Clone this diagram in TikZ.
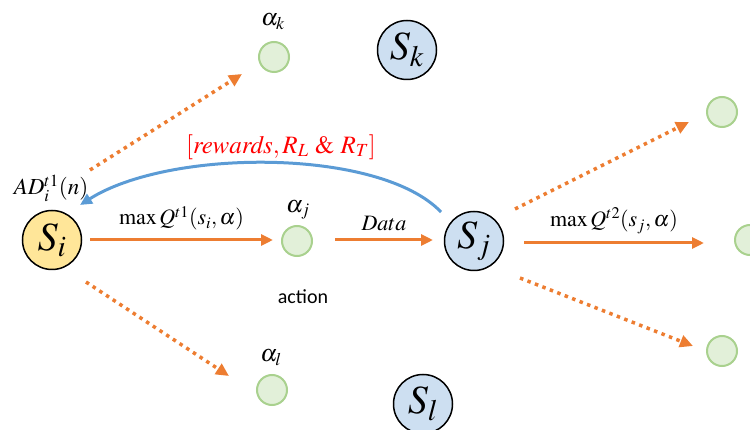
\documentclass[tikz,border=0pt]{standalone}
\usepackage{mathptmx}
\usepackage{fontspec}
\setmainfont{Liberation Serif}
\newfontfamily\calib{Carlito}
\usetikzlibrary{arrows.meta}
\definecolor{orng}{HTML}{ED7D31}
\definecolor{blu}{HTML}{5B9BD5}
\definecolor{gfill}{HTML}{E2F0D9}
\definecolor{gdraw}{HTML}{A9D18E}
\definecolor{yfill}{HTML}{FFE699}
\definecolor{bfill}{HTML}{CDDFF1}
\tikzset{
  state/.style={circle,draw=black,line width=1.5pt,minimum size=59pt,inner sep=0pt,font=\fontsize{40}{44}\selectfont},
  act/.style={circle,draw=gdraw,fill=gfill,line width=2pt,minimum size=30pt,inner sep=0pt},
  lbl/.style={inner sep=0pt,font=\fontsize{22}{26}\selectfont},
  albl/.style={inner sep=0pt,font=\fontsize{24}{28}\selectfont},
  solidarrow/.style={draw=orng,line width=3pt,-{Triangle[length=12pt,width=11pt]},fill=orng},
  dotarrow/.style={draw=orng,line width=3.5pt,dash pattern=on 3.5pt off 4.5pt,-{Triangle[length=13pt,width=12pt]}},
  bluearrow/.style={draw=blu,line width=3pt,-{Triangle[length=12pt,width=11pt]}}
}
\begin{document}
\begin{tikzpicture}[x=1pt,y=-1pt]
\useasboundingbox (0,0) rectangle (750,430);
% states
\node[state,fill=yfill] (Si) at (52,240) {$S_i$};
\node[state,fill=bfill] (Sj) at (474,241) {$S_j$};
\node[state,fill=bfill] (Sk) at (407,50) {$S_k$};
\node[state,fill=bfill] (Sl) at (423,404) {$S_l$};
% actions
\node[act] (ak) at (274,57) {};
\node[act] (aj) at (297,241) {};
\node[act] (al) at (272,390) {};
\node[act] (r1) at (722,112) {};
\node[act] (r2) at (750,240) {};
\node[act] (r3) at (722,351) {};
% labels
\node[albl] (lak) at (273,22) {$\alpha_k$};
\node[albl] (laj) at (298,210) {$\alpha_j$};
\node[albl] (lal) at (271,358) {$\alpha_l$};
\node[lbl,font=\fontsize{23}{26}\selectfont] (ad) at (51,188) {$AD_i^{t1}(n)$};
\node[lbl,text=red,font=\fontsize{25}{28}\selectfont] (rw) at (281,147) {$[\mathit{rewards}, R_L\ \&\ R_T]$};
\node[inner sep=0pt,font=\calib\fontsize{20}{24}\selectfont] (actn) at (303,297) {action};
% connector endpoints
\coordinate (m1s) at (90,240);
\coordinate (m1e) at (273,240);
\coordinate (d1s) at (335,240);
\coordinate (d1e) at (433,240);
\coordinate (m2s) at (524,243);
\coordinate (m2e) at (704,243);
\coordinate (bs) at (441,212);
\coordinate (be) at (80,205);
\coordinate (o1s) at (90,170);
\coordinate (o1e) at (242,74);
\coordinate (o2s) at (86,282);
\coordinate (o2e) at (229,376);
\coordinate (o3s) at (515,209);
\coordinate (o3e) at (689,122);
\coordinate (o4s) at (520,278);
\coordinate (o4e) at (693,346);
% solid arrows
\draw[solidarrow] (m1s) -- node[lbl,above=8pt,text=black] (lq1) {$\max Q^{t1}(s_i,\alpha)$} (m1e);
\draw[solidarrow] (d1s) -- node[lbl,above=8pt,text=black] (ld) {$Data$} (d1e);
\draw[solidarrow] (m2s) -- node[lbl,above=8pt,text=black] (lq2) {$\max Q^{t2}(s_j,\alpha)$} (m2e);
% blue feedback
\draw[bluearrow] (bs) .. controls (380,148) and (170,148) .. (be);
% dotted arrows
\draw[dotarrow] (o1s) -- (o1e);
\draw[dotarrow] (o2s) -- (o2e);
\draw[dotarrow] (o3s) -- (o3e);
\draw[dotarrow] (o4s) -- (o4e);
\end{tikzpicture}
\end{document}
